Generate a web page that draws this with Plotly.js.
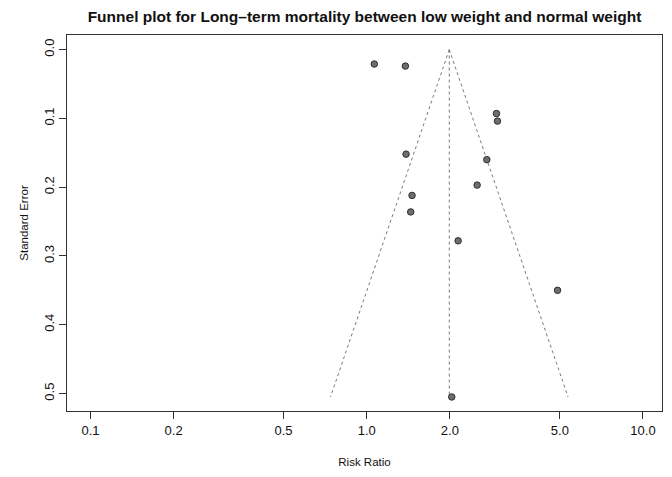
<!DOCTYPE html>
<html>
<head>
<meta charset="utf-8">
<script src="https://cdn.plot.ly/plotly-3.0.1.min.js"></script>
<style>html,body{margin:0;padding:0;background:#fff;}#chart{width:672px;height:477px;}</style>
</head>
<body>
<div id="chart"></div>
<script>
// Study-level estimates (risk ratio) and standard errors
const riskRatio = [1.065, 1.380, 2.949, 2.973, 1.388, 2.721, 2.510, 1.459, 1.443, 2.142, 4.905, 2.032];
const standardError = [0.021, 0.024, 0.093, 0.104, 0.152, 0.160, 0.197, 0.212, 0.236, 0.278, 0.350, 0.505];

// Pooled estimate and funnel depth
const pooledRR = 1.99;
const funnelSE = [0, 0.505];

// Axis ticks
const xTickVals = [0.1, 0.2, 0.5, 1, 2, 5, 10];
const xTickText = ["0.1", "0.2", "0.5", "1.0", "2.0", "5.0", "10.0"];
const yTickVals = [0, 0.1, 0.2, 0.3, 0.4, 0.5];
const yTickText = ["0.0", "0.1", "0.2", "0.3", "0.4", "0.5"];

const FONT = '"Liberation Sans", Arial, sans-serif';

const lowerX = funnelSE.map(s => pooledRR * Math.exp(-1.96 * s));
const upperX = funnelSE.map(s => pooledRR * Math.exp(1.96 * s));
const dotLine = {color: '#7a7a7a', width: 1, dash: 'dot'};

const traces = [
  {x: lowerX, y: funnelSE, mode: 'lines', line: dotLine, hoverinfo: 'skip', showlegend: false},
  {x: upperX, y: funnelSE, mode: 'lines', line: dotLine, hoverinfo: 'skip', showlegend: false},
  {x: funnelSE.map(() => pooledRR), y: funnelSE, mode: 'lines', line: dotLine, hoverinfo: 'skip', showlegend: false},
  {x: riskRatio, y: standardError, mode: 'markers', showlegend: false,
   marker: {size: 6.5, color: '#6e6e6e', line: {color: '#2e2e2e', width: 1}}}
];

const layout = {
  width: 672, height: 477,
  margin: {l: 67, r: 10, t: 35, b: 66, pad: 0},
  paper_bgcolor: '#fff', plot_bgcolor: '#fff',
  font: {family: FONT, color: '#111', size: 13},
  title: {text: '<b>Funnel plot for Long\u2013term mortality between low weight and normal weight</b>',
          font: {family: FONT, size: 15.5, color: '#111'},
          x: 0.5, xanchor: 'center', y: 0.965, yanchor: 'middle', xref: 'paper'},
  xaxis: {
    type: 'log', range: [-1.0848, 1.0688],
    tickvals: xTickVals, ticktext: xTickText,
    ticks: 'outside', ticklen: 7, tickcolor: '#333', tickwidth: 1,
    showline: true, linecolor: '#333', linewidth: 1, mirror: true,
    showgrid: false, zeroline: false,
    tickfont: {family: FONT, size: 13, color: '#111'},
    title: {text: 'Risk Ratio', font: {family: FONT, size: 11.5, color: '#111'}, standoff: 21}
  },
  yaxis: {
    range: [0.5254, -0.0212],
    tickvals: yTickVals, ticktext: yTickText, tickangle: -90,
    ticks: 'outside', ticklen: 7, tickcolor: '#333', tickwidth: 1,
    showline: true, linecolor: '#333', linewidth: 1, mirror: true,
    showgrid: false, zeroline: false,
    tickfont: {family: FONT, size: 13, color: '#111'},
    title: {text: 'Standard Error', font: {family: FONT, size: 11.5, color: '#111'}, standoff: 10}
  }
};

Plotly.newPlot('chart', traces, layout, {staticPlot: true, displayModeBar: false});
</script>
</body>
</html>
